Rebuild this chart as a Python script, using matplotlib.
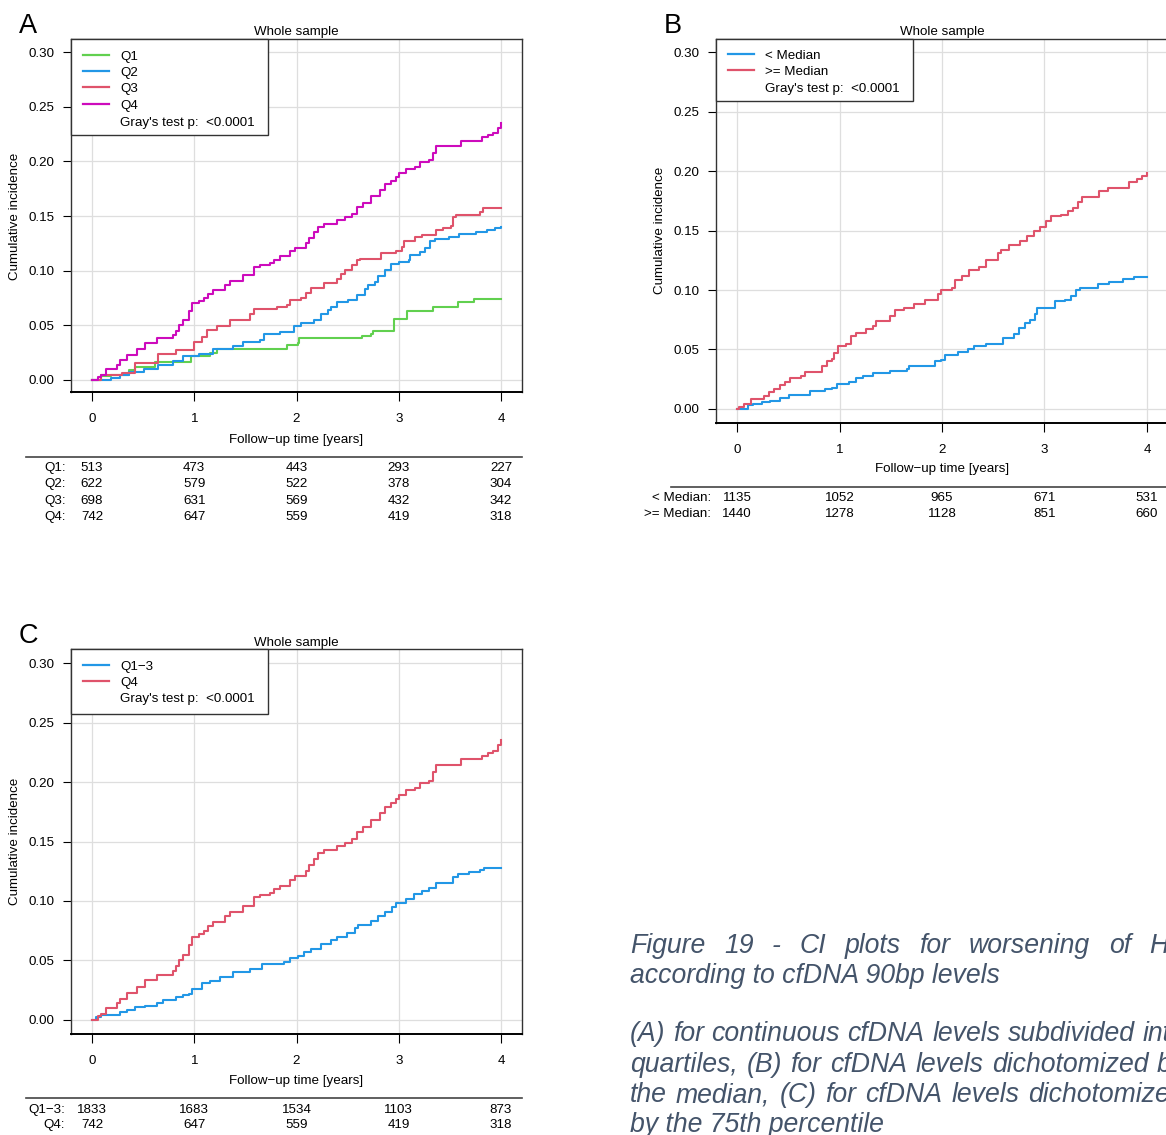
import numpy as np
import matplotlib.pyplot as plt
import matplotlib.transforms as mtransforms
from matplotlib.lines import Line2D
from matplotlib.patches import Rectangle

W, H = 1166, 1135

plt.rcParams['font.family'] = ['Liberation Sans', 'DejaVu Sans']
plt.rcParams['font.size'] = 9.6

# R 4.x default palette
GREEN = '#61D04F'
BLUE = '#2297E6'
RED = '#DF536B'
MAGENTA = '#CD0BBC'
CAPTION_COLOR = '#44546A'

# ---- cumulative incidence curves (time in years, CI) ----
q1_t = [0, 0.09, 0.19, 0.36, 0.42, 0.62, 0.97, 1.15, 1.22, 1.91, 2.01, 2.02, 2.64, 2.73, 2.75,
        2.95, 3.08, 3.33, 3.58, 3.74, 4.00]
q1_ci = [0, 0.004, 0.005, 0.009, 0.012, 0.016, 0.022, 0.025, 0.028, 0.032, 0.034, 0.038, 0.040,
         0.042, 0.045, 0.056, 0.063, 0.067, 0.071, 0.074, 0.074]

q2_t = [0, 0.16, 0.19, 0.27, 0.36, 0.51, 0.65, 0.79, 0.89, 1.05, 1.18, 1.38, 1.48, 1.64, 1.68,
        1.84, 1.98, 2.04, 2.17, 2.24, 2.31, 2.34, 2.40, 2.50, 2.59, 2.67, 2.70, 2.77, 2.80, 2.87,
        2.92, 3.00, 3.10, 3.11, 3.21, 3.26, 3.31, 3.35, 3.49, 3.59, 3.76, 3.86, 3.94, 4.00]
q2_ci = [0, 0.0, 0.002, 0.005, 0.0075, 0.010, 0.0135, 0.017, 0.022, 0.024, 0.028, 0.031, 0.035,
         0.037, 0.042, 0.044, 0.049, 0.052, 0.055, 0.060, 0.064, 0.067, 0.071, 0.073, 0.078, 0.083,
         0.087, 0.090, 0.095, 0.101, 0.106, 0.108, 0.110, 0.114, 0.117, 0.121, 0.127, 0.129, 0.131,
         0.134, 0.135, 0.137, 0.139, 0.140]

q3_t = [0, 0.09, 0.29, 0.42, 0.65, 0.82, 1.00, 1.08, 1.12, 1.22, 1.35, 1.55, 1.58, 1.81, 1.91,
        1.94, 2.04, 2.09, 2.14, 2.27, 2.40, 2.44, 2.47, 2.54, 2.59, 2.62, 2.83, 2.97, 3.03, 3.05,
        3.16, 3.23, 3.36, 3.43, 3.51, 3.53, 3.56, 3.79, 3.82, 4.00]
q3_ci = [0, 0.005, 0.006, 0.0155, 0.024, 0.027, 0.035, 0.039, 0.046, 0.049, 0.055, 0.060, 0.065,
         0.067, 0.069, 0.073, 0.075, 0.080, 0.084, 0.089, 0.092, 0.097, 0.101, 0.105, 0.110, 0.111,
         0.116, 0.118, 0.122, 0.127, 0.131, 0.133, 0.137, 0.139, 0.141, 0.149, 0.151, 0.154, 0.157,
         0.157]

q4_t = [0, 0.06, 0.09, 0.14, 0.24, 0.27, 0.34, 0.44, 0.52, 0.64, 0.79, 0.82, 0.85, 0.89, 0.95,
        0.98, 1.05, 1.10, 1.13, 1.18, 1.30, 1.35, 1.48, 1.58, 1.64, 1.74, 1.78, 1.84, 1.94, 1.99,
        2.09, 2.12, 2.17, 2.21, 2.27, 2.40, 2.47, 2.54, 2.59, 2.65, 2.73, 2.82, 2.87, 2.92, 2.97,
        3.00, 3.07, 3.16, 3.21, 3.30, 3.33, 3.36, 3.61, 3.81, 3.87, 3.92, 3.97, 4.00]
q4_ci = [0, 0.003, 0.005, 0.010, 0.014, 0.018, 0.023, 0.028, 0.034, 0.038, 0.041, 0.045, 0.050,
         0.055, 0.063, 0.070, 0.072, 0.075, 0.079, 0.082, 0.087, 0.091, 0.096, 0.103, 0.105, 0.107,
         0.110, 0.113, 0.118, 0.121, 0.125, 0.130, 0.135, 0.140, 0.143, 0.146, 0.149, 0.152, 0.158,
         0.162, 0.168, 0.174, 0.179, 0.182, 0.186, 0.189, 0.193, 0.195, 0.199, 0.201, 0.208, 0.214,
         0.219, 0.222, 0.224, 0.226, 0.231, 0.235]

below_med_t = [0, 0.07, 0.11, 0.16, 0.24, 0.32, 0.42, 0.51, 0.71, 0.86, 0.93, 0.98, 1.09, 1.16,
               1.23, 1.33, 1.49, 1.66, 1.68, 1.93, 1.99, 2.03, 2.16, 2.25, 2.31, 2.43, 2.60, 2.70,
               2.75, 2.81, 2.86, 2.91, 2.93, 3.10, 3.20, 3.26, 3.31, 3.35, 3.52, 3.63, 3.77, 3.87,
               4.00]
below_med_ci = [0, 0.0, 0.003, 0.004, 0.006, 0.007, 0.009, 0.012, 0.015, 0.0165, 0.018, 0.021,
                0.023, 0.026, 0.028, 0.030, 0.032, 0.034, 0.036, 0.040, 0.041, 0.045, 0.048, 0.050,
                0.053, 0.055, 0.060, 0.063, 0.068, 0.072, 0.075, 0.080, 0.085, 0.091, 0.092, 0.095,
                0.100, 0.102, 0.105, 0.107, 0.109, 0.111, 0.111]

above_med_t = [0, 0.02, 0.07, 0.14, 0.26, 0.31, 0.36, 0.42, 0.47, 0.52, 0.62, 0.66, 0.83, 0.88,
               0.93, 0.95, 0.99, 1.06, 1.11, 1.16, 1.26, 1.33, 1.36, 1.49, 1.54, 1.63, 1.73, 1.83,
               1.96, 1.99, 2.10, 2.13, 2.20, 2.26, 2.36, 2.43, 2.55, 2.58, 2.65, 2.76, 2.83, 2.90,
               2.96, 3.01, 3.06, 3.16, 3.23, 3.28, 3.33, 3.37, 3.53, 3.62, 3.82, 3.90, 3.95, 4.00]
above_med_ci = [0, 0.002, 0.004, 0.008, 0.011, 0.014, 0.017, 0.020, 0.023, 0.026, 0.028, 0.031,
                0.036, 0.040, 0.042, 0.047, 0.053, 0.055, 0.061, 0.064, 0.067, 0.070, 0.074, 0.078,
                0.083, 0.085, 0.088, 0.092, 0.097, 0.100, 0.102, 0.108, 0.112, 0.117, 0.119, 0.125,
                0.131, 0.134, 0.138, 0.141, 0.145, 0.150, 0.153, 0.158, 0.162, 0.163, 0.166, 0.169,
                0.174, 0.178, 0.183, 0.186, 0.191, 0.193, 0.196, 0.198]

q13_t = [0, 0.04, 0.09, 0.27, 0.34, 0.42, 0.52, 0.64, 0.69, 0.82, 0.89, 0.95, 0.98, 1.08, 1.15,
         1.25, 1.38, 1.55, 1.66, 1.88, 1.94, 2.01, 2.07, 2.14, 2.24, 2.34, 2.40, 2.49, 2.57, 2.60,
         2.73, 2.80, 2.87, 2.93, 2.97, 3.07, 3.15, 3.23, 3.30, 3.36, 3.53, 3.58, 3.69, 3.79, 3.83,
         4.00]
q13_ci = [0, 0.0025, 0.004, 0.007, 0.008, 0.011, 0.012, 0.014, 0.017, 0.019, 0.021, 0.022, 0.026,
          0.031, 0.033, 0.036, 0.040, 0.043, 0.047, 0.049, 0.052, 0.054, 0.057, 0.060, 0.064, 0.067,
          0.070, 0.073, 0.077, 0.080, 0.083, 0.087, 0.091, 0.095, 0.098, 0.102, 0.106, 0.108, 0.111,
          0.115, 0.120, 0.123, 0.124, 0.126, 0.128, 0.128]

# ---- numbers at risk ----
risk_times = [0, 1, 2, 3, 4]
risk_q1 = [513, 473, 443, 293, 227]
risk_q2 = [622, 579, 522, 378, 304]
risk_q3 = [698, 631, 569, 432, 342]
risk_q4 = [742, 647, 559, 419, 318]
risk_below_med = [1135, 1052, 965, 671, 531]
risk_above_med = [1440, 1278, 1128, 851, 660]
risk_q13 = [1833, 1683, 1534, 1103, 873]

y_ticks = [0.00, 0.05, 0.10, 0.15, 0.20, 0.25, 0.30]
p_text = "Gray's test p:  <0.0001"
MINUS = '\u2212'
HALF_CAP = 4.7   # half the cap height of 9.6 pt text, in pixels

fig = plt.figure(figsize=(W / 100, H / 100), dpi=100)


def fx(x):
    return x / W


def fy(y):
    return 1 - y / H


def ftext(x, y, s, **kw):
    return fig.text(fx(x), fy(y), s, **kw)


def label(x, y, s, **kw):
    # y is the vertical centre of the capitals
    return fig.text(fx(x), fy(y + HALF_CAP), s, va='baseline', **kw)


def draw_panel(letter, box, ylim, series, legend_rows, legend_box, table_rows, table_line,
               label_right, text_y):
    left, top, right, bottom = box
    ax = fig.add_axes([fx(left), fy(bottom), (right - left) / W, (bottom - top) / H])
    ax.set_xlim(-0.205, 4.205)
    ax.set_ylim(*ylim)
    ax.set_xticks(risk_times)
    ax.set_yticks(y_ticks)
    ax.set_yticklabels(['%.2f' % v for v in y_ticks])
    ax.grid(True, color='#DEDEDE', lw=0.9)
    ax.set_axisbelow(True)
    for t, ci, col in series:
        ax.step(t, ci, where='post', color=col, lw=1.5)
    ax.tick_params(axis='x', direction='out', length=6.5, width=0.8, pad=8.5, labelsize=9.6)
    ax.tick_params(axis='y', direction='out', length=6, width=0.8, pad=6, labelsize=9.6)
    for side in ax.spines:
        ax.spines[side].set_color('#333333')
        ax.spines[side].set_linewidth(1.0)
    ax.spines['bottom'].set_color('black')
    ax.spines['bottom'].set_linewidth(1.4)

    title_y, xlab_y, ylab_x = text_y
    cx = (left + right) / 2
    label(cx, title_y, 'Whole sample', ha='center')
    label(cx, xlab_y, 'Follow' + MINUS + 'up time [years]', ha='center')
    y0 = bottom - (0 - ylim[0]) / (ylim[1] - ylim[0]) * (bottom - top)
    y30 = bottom - (0.30 - ylim[0]) / (ylim[1] - ylim[0]) * (bottom - top)
    ftext(ylab_x, (y0 + y30) / 2, 'Cumulative incidence', rotation=90, ha='center', va='center')
    ftext(left - 52, top - 6, letter, fontsize=19.5, ha='left', va='baseline')

    # legend box
    lb_right, lb_bottom = legend_box
    fig.add_artist(Rectangle((fx(left), fy(lb_bottom)), (lb_right - left) / W,
                             (lb_bottom - top) / H, transform=fig.transFigure,
                             facecolor='white', edgecolor='#333333', lw=1.0, zorder=2))
    for name, col, ly in legend_rows:
        if col is not None:
            fig.add_artist(Line2D([fx(left + 12), fx(left + 38)], [fy(ly), fy(ly)],
                                  transform=fig.transFigure, color=col, lw=1.6, zorder=3))
        label(left + 49, ly, name, ha='left', zorder=4)

    # numbers at risk
    line_left, line_y = table_line
    fig.add_artist(Line2D([fx(line_left), fx(right)], [fy(line_y), fy(line_y)],
                          transform=fig.transFigure, color='#444444', lw=1.2))
    trans = mtransforms.blended_transform_factory(ax.transData, fig.transFigure)
    for name, counts, ry in table_rows:
        label(label_right, ry, name + ':', ha='right')
        for t, n in zip(risk_times, counts):
            fig.text(t, fy(ry + HALF_CAP), str(n), transform=trans, ha='center', va='baseline')
    return ax


# Panel A: quartiles
draw_panel('A', (71, 39, 522, 392), (-0.011, 0.312),
           [(q1_t, q1_ci, GREEN), (q2_t, q2_ci, BLUE), (q3_t, q3_ci, RED), (q4_t, q4_ci, MAGENTA)],
           [('Q1', GREEN, 55), ('Q2', BLUE, 71), ('Q3', RED, 87), ('Q4', MAGENTA, 104),
            (p_text, None, 121)],
           (268, 135),
           [('Q1', risk_q1, 466), ('Q2', risk_q2, 482), ('Q3', risk_q3, 499), ('Q4', risk_q4, 515)],
           (26, 457), 66, (30, 438, 15))

# Panel B: split at the median
draw_panel('B', (716, 39, 1168, 423), (-0.0118, 0.311),
           [(below_med_t, below_med_ci, BLUE), (above_med_t, above_med_ci, RED)],
           [('< Median', BLUE, 54), ('>= Median', RED, 70), (p_text, None, 87)],
           (913, 101),
           [('< Median', risk_below_med, 496), ('>= Median', risk_above_med, 512)],
           (671, 487), 711, (30, 467, 660))

# Panel C: Q1-3 vs Q4
draw_panel('C', (71, 649, 522, 1034), (-0.0118, 0.3118),
           [(q13_t, q13_ci, BLUE), (q4_t, q4_ci, RED)],
           [('Q1' + MINUS + '3', BLUE, 665), ('Q4', RED, 681), (p_text, None, 697)],
           (268, 714),
           [('Q1' + MINUS + '3', risk_q13, 1108), ('Q4', risk_q4, 1123)],
           (26, 1098), 65, (641, 1079, 15))

# ---- caption (justified column, runs past the right edge) ----
CAP_X0 = 630
CAP_X1 = 1185
cap_style = dict(fontsize=19.2, style='italic', color=CAPTION_COLOR, va='baseline', ha='left')


def caption_line(text, y, justify=False):
    words = text.split(' ')
    if not justify:
        ftext(CAP_X0, y, text, **cap_style)
        return
    r = fig.canvas.get_renderer()
    items = [ftext(0, y, w, **cap_style) for w in words]
    widths = [t.get_window_extent(r).width for t in items]
    gap = (CAP_X1 - CAP_X0 - sum(widths)) / (len(words) - 1)
    x = CAP_X0
    for t, w in zip(items, widths):
        t.set_position((fx(x), fy(y)))
        x += w + gap


caption_line('Figure 19 - CI plots for worsening of HF', 953, justify=True)
caption_line('according to cfDNA 90bp levels', 983)
caption_line('(A) for continuous cfDNA levels subdivided into', 1041, justify=True)
caption_line('quartiles, (B) for cfDNA levels dichotomized by', 1072, justify=True)
caption_line('the median, (C) for cfDNA levels dichotomized', 1102, justify=True)
caption_line('by the 75th percentile', 1132)

fig.savefig('out.png', dpi=100)
